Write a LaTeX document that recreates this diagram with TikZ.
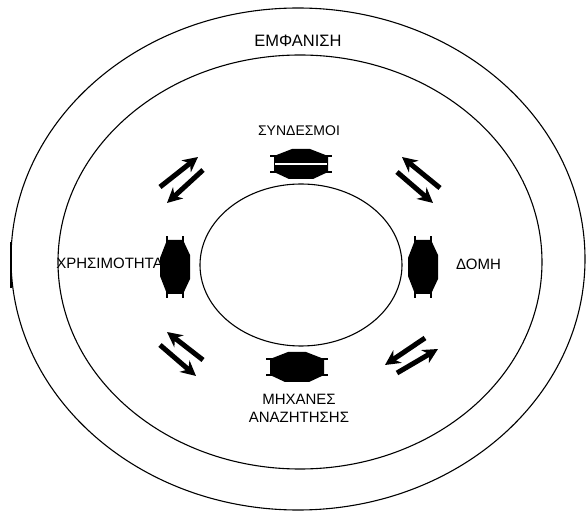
\documentclass[tikz,border=0pt]{standalone}
\usepackage{fontspec}
\setmainfont{Liberation Sans}
\usetikzlibrary{arrows.meta}

\begin{document}
\begin{tikzpicture}[
  x=1pt,y=-1pt,
  ring/.style={draw,line width=1.1pt},
  label/.style={font=\fontsize{15}{18}\selectfont,inner sep=1pt},
  flow/.style={line width=5pt,-{Stealth[length=15pt,width=15pt]}},
  gate/.pic={
    \fill (-27,-8) -- (-9,-15) -- (9,-15) -- (27,-8) -- (27,8) -- (12,15) -- (-12,15) -- (-27,8) -- cycle;
    \draw[line width=2.2pt] (-31,-8) -- (31,-8) (-31,8) -- (31,8);
  }
]
  \useasboundingbox (0,0) rectangle (587,513);

  % rings
  \draw[ring] (298,259) ellipse [x radius=287,y radius=251];
  \draw[line width=2.6pt] (11,242) -- (11,288);
  \draw[ring] (300,262) ellipse [x radius=242,y radius=207];
  \draw[ring] (301,265) ellipse [x radius=101,y radius=81];

  % labels
  \node[label,font=\fontsize{16.5}{19}\selectfont] (show) at (298,41) {ΕΜΦΑΝΙΣΗ};
  \node[label,font=\fontsize{14}{17}\selectfont] (links) at (299,131) {ΣΥΝΔΕΣΜΟΙ};
  \node[label,anchor=east] (use) at (164,263) {ΧΡΗΣΙΜΟΤΗΤΑ};
  \node[label,anchor=west] (struct) at (455,264) {ΔΟΜΗ};
  \node[label,align=center] (search) at (299,408) {ΜΗΧΑΝΕΣ\\ΑΝΑΖΗΤΗΣΗΣ};

  % double heads
  \pic at (301,164) {gate};
  \draw[white,line width=1.2pt] (275,164) -- (327,164);
  \pic at (297,367) {gate};
  \pic[rotate=90] at (175,267) {gate};
  \pic[rotate=90] at (423,267) {gate};

  % arrow pairs
  \coordinate (tla) at (160,187); \coordinate (tlb) at (198,157);
  \coordinate (tlc) at (203,170); \coordinate (tld) at (167,203);
  \coordinate (tra) at (440,188); \coordinate (trb) at (402,157);
  \coordinate (trc) at (397,172); \coordinate (trd) at (433,203);
  \coordinate (bla) at (203,360); \coordinate (blb) at (167,332);
  \coordinate (blc) at (160,345); \coordinate (bld) at (196,376);
  \coordinate (bra) at (425,338); \coordinate (brb) at (385,365);
  \coordinate (brc) at (397,373); \coordinate (brd) at (438,349);

  \draw[flow] (tla) -- (tlb);
  \draw[flow] (tlc) -- (tld);
  \draw[flow] (tra) -- (trb);
  \draw[flow] (trc) -- (trd);
  \draw[flow] (bla) -- (blb);
  \draw[flow] (blc) -- (bld);
  \draw[flow] (bra) -- (brb);
  \draw[flow] (brc) -- (brd);
\end{tikzpicture}
\end{document}
